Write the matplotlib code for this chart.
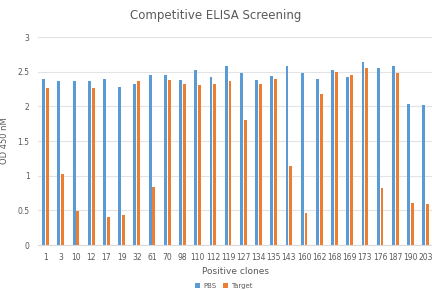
import numpy as np
from matplotlib import pyplot as plt

clones = ["1", "3", "10", "12", "17", "19", "32", "61", "70", "98", "110", "112", "119",
          "127", "134", "135", "143", "160", "162", "168", "169", "173", "176", "187", "190", "203"]
pbs = [2.40, 2.37, 2.37, 2.37, 2.40, 2.28, 2.32, 2.45, 2.45, 2.38, 2.53, 2.43, 2.58,
       2.48, 2.38, 2.44, 2.59, 2.48, 2.40, 2.53, 2.43, 2.64, 2.55, 2.59, 2.03, 2.02]
target = [2.27, 1.03, 0.49, 2.27, 0.41, 0.43, 2.37, 0.84, 2.38, 2.33, 2.31, 2.32, 2.36,
          1.80, 2.33, 2.40, 1.14, 0.46, 2.18, 2.49, 2.46, 2.56, 0.83, 2.48, 0.61, 0.59]

blue = "#5B9BD5"
orange = "#ED7D31"
grey = "#595959"

fig = plt.figure(figsize=(4.32, 2.90), dpi=100)
ax = fig.add_axes([0.088, 0.155, 0.915, 0.717])

x = np.arange(len(clones))
w = 0.19
ax.bar(x - w / 2 - 0.03, pbs, w, color=blue, label="PBS")
ax.bar(x + w / 2 + 0.03, target, w, color=orange, label="Target")

ax.set_xlim(-0.5, len(clones) - 0.5)
ax.set_ylim(0, 3)
ax.set_yticks([0, 0.5, 1, 1.5, 2, 2.5, 3])
ax.set_yticklabels(["0", "0.5", "1", "1.5", "2", "2.5", "3"])
ax.set_xticks(x)
ax.set_xticklabels(clones)
ax.tick_params(length=0, labelsize=5.5, colors=grey, pad=6)
ax.grid(axis="y", color="#E3E3E3", linewidth=0.8)
ax.set_axisbelow(True)
for s in ["top", "right", "left"]:
    ax.spines[s].set_visible(False)
ax.spines["bottom"].set_color("#D9D9D9")

ax.set_ylabel("OD 450 nM", fontsize=6, color=grey, labelpad=6)
ax.set_xlabel("Positive clones", fontsize=6.5, color=grey, labelpad=3)
fig.text(0.5, 0.945, "Competitive ELISA Screening", ha="center", va="center",
         fontsize=8.5, color=grey)

ax.legend(loc="upper center", bbox_to_anchor=(0.47, -0.175), ncol=2, frameon=False,
          fontsize=5, labelcolor=grey, handlelength=0.7, handleheight=0.7,
          columnspacing=1.0, handletextpad=0.4, borderaxespad=0, borderpad=0.2)

fig.savefig("out.png", dpi=100)
